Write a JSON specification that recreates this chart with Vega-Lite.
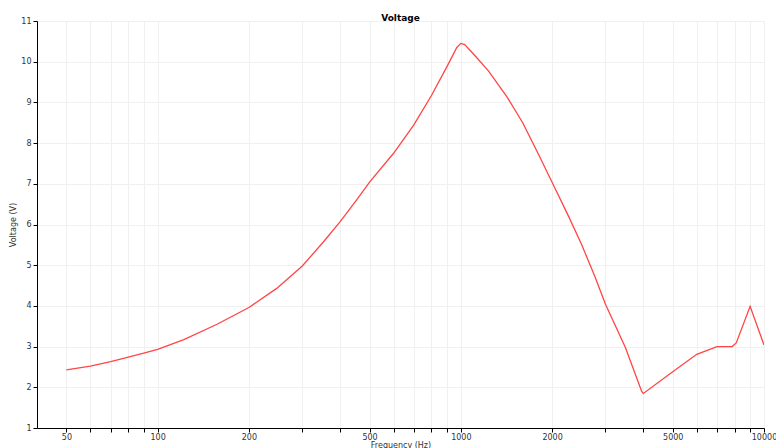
{
  "$schema": "https://vega.github.io/schema/vega-lite/v6.json",
  "width": 727,
  "height": 407,
  "autosize": {"type": "none"},
  "padding": {"left": 37, "top": 21, "right": 12, "bottom": 20},
  "background": "white",
  "title": {
    "text": "Voltage",
    "font": "DejaVu Sans",
    "fontSize": 9,
    "fontWeight": "bold",
    "color": "#000000",
    "anchor": "middle",
    "frame": "group",
    "offset": -6
  },
  "config": {
    "view": {"stroke": null},
    "axis": {
      "labelFont": "DejaVu Sans",
      "labelFontSize": 8,
      "labelColor": "#333333",
      "titleFont": "DejaVu Sans",
      "titleFontSize": 8,
      "titleFontWeight": "normal",
      "titleColor": "#333333",
      "domainColor": "#000000",
      "domainWidth": 1,
      "tickColor": "#000000",
      "tickSize": 4,
      "gridColor": "#f0f0f0",
      "gridWidth": 1
    }
  },
  "data": {
    "values": [
      {"f": 50, "v": 2.43},
      {"f": 60, "v": 2.52},
      {"f": 70, "v": 2.63},
      {"f": 80, "v": 2.74},
      {"f": 90, "v": 2.84},
      {"f": 100, "v": 2.93},
      {"f": 122, "v": 3.17},
      {"f": 157, "v": 3.55},
      {"f": 200, "v": 3.96},
      {"f": 247, "v": 4.43},
      {"f": 300, "v": 4.98},
      {"f": 352, "v": 5.57},
      {"f": 400, "v": 6.07},
      {"f": 454, "v": 6.61},
      {"f": 500, "v": 7.04},
      {"f": 600, "v": 7.75},
      {"f": 700, "v": 8.45},
      {"f": 800, "v": 9.17},
      {"f": 900, "v": 9.88},
      {"f": 970, "v": 10.35},
      {"f": 1000, "v": 10.45},
      {"f": 1030, "v": 10.42},
      {"f": 1116, "v": 10.14},
      {"f": 1235, "v": 9.77},
      {"f": 1416, "v": 9.15},
      {"f": 1600, "v": 8.5},
      {"f": 1805, "v": 7.72},
      {"f": 2000, "v": 7.04},
      {"f": 2267, "v": 6.2},
      {"f": 2505, "v": 5.5},
      {"f": 2768, "v": 4.72},
      {"f": 3000, "v": 4.04},
      {"f": 3490, "v": 2.98},
      {"f": 3950, "v": 1.9},
      {"f": 4000, "v": 1.85},
      {"f": 5000, "v": 2.38},
      {"f": 6000, "v": 2.81},
      {"f": 7000, "v": 3.0},
      {"f": 7850, "v": 3.0},
      {"f": 8100, "v": 3.09},
      {"f": 9000, "v": 3.99},
      {"f": 10000, "v": 3.04}
    ]
  },
  "mark": {"type": "line", "color": "#ff4545", "strokeWidth": 1.3, "clip": true},
  "encoding": {
    "x": {
      "field": "f",
      "type": "quantitative",
      "scale": {"type": "log", "domain": [40, 10000], "nice": false},
      "axis": {
        "title": "Frequency (Hz)",
        "values": [50, 60, 70, 80, 90, 100, 200, 300, 400, 500, 600, 700, 800, 900, 1000, 2000, 3000, 4000, 5000, 6000, 7000, 8000, 9000, 10000],
        "labelExpr": "indexof([50,100,200,500,1000,2000,5000,10000], datum.value) >= 0 ? '' + datum.value : ''",
        "labelOverlap": false,
        "labelBound": false,
        "labelFlush": false,
        "labelPadding": 1,
        "titlePadding": 0
      }
    },
    "y": {
      "field": "v",
      "type": "quantitative",
      "scale": {"domain": [1, 11], "nice": false, "zero": false},
      "axis": {
        "title": "Voltage (V)",
        "values": [1, 2, 3, 4, 5, 6, 7, 8, 9, 10, 11],
        "labelPadding": 2,
        "titlePadding": 3
      }
    }
  }
}
